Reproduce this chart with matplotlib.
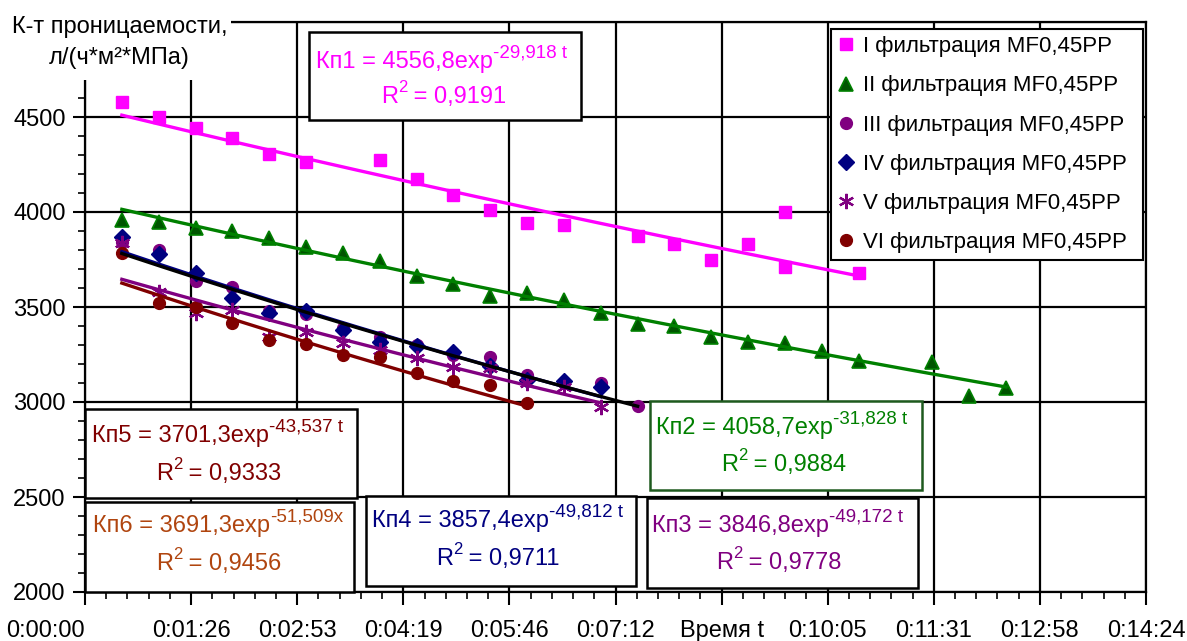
import numpy as np
import matplotlib
matplotlib.use('Agg')
import matplotlib.pyplot as plt
from matplotlib.ticker import MultipleLocator
from matplotlib.patches import Rectangle

plt.rcParams['font.family'] = ['Liberation Sans', 'DejaVu Sans']

# время измерения, с
t1_s = [30, 60, 90, 120, 150, 180, 240, 270, 300, 330, 360, 390, 450, 480, 510, 540, 570, 570, 630]
k1 = [4579, 4500, 4442, 4389, 4305, 4263, 4274, 4174, 4089, 4011, 3942, 3932, 3874, 3832, 3747, 3830, 3999, 3709, 3677]

t2_s = [30, 60, 90, 120, 150, 180, 210, 240, 270, 300, 330, 360, 390, 420, 450, 480, 510, 540, 570, 600, 630, 690, 720, 750]
k2 = [3958, 3947, 3916, 3900, 3863, 3816, 3784, 3742, 3663, 3621, 3556, 3572, 3535, 3466, 3413, 3398, 3340, 3316, 3310, 3268, 3215, 3210, 3029, 3076]

t3_s = [30, 60, 90, 120, 150, 180, 210, 240, 270, 300, 330, 360, 390, 420, 450]
k3 = [3842, 3800, 3637, 3605, 3479, 3463, 3389, 3342, 3300, 3250, 3237, 3142, 3100, 3100, 2979]

t4_s = [30, 60, 90, 120, 150, 180, 210, 240, 270, 300, 330, 360, 390, 420]
k4 = [3868, 3779, 3679, 3547, 3468, 3479, 3379, 3316, 3295, 3263, 3189, 3116, 3111, 3079]

t5_s = [30, 60, 90, 120, 150, 180, 210, 240, 270, 300, 330, 360, 390, 420]
k5 = [3836, 3579, 3468, 3484, 3342, 3368, 3310, 3274, 3232, 3184, 3179, 3100, 3079, 2974]

t6_s = [30, 60, 90, 120, 150, 180, 210, 240, 270, 300, 330, 360]
k6 = [3783, 3521, 3500, 3416, 3326, 3305, 3247, 3237, 3153, 3111, 3089, 2995]

# коэффициенты экспоненциальных линий тренда  Kn = A*exp(-B*t), t в сутках
fit_a = [4556.8, 4058.7, 3846.8, 3857.4, 3701.3, 3691.3]
fit_b = [29.918, 31.828, 49.172, 49.812, 43.537, 51.509]
fit_r2 = ['0,9191', '0,9884', '0,9778', '0,9711', '0,9333', '0,9456']

labels = ['I фильтрация MF0,45PP', 'II фильтрация MF0,45PP', 'III фильтрация MF0,45PP',
          'IV фильтрация MF0,45PP', 'V фильтрация MF0,45PP', 'VI фильтрация MF0,45PP']

W, H = 1187, 641
fig = plt.figure(figsize=(W / 100, H / 100), dpi=100)
ax = fig.add_axes([85 / W, 1 - 592 / H, (1146 - 85) / W, (592 - 22) / H])


def fx(x):
    return x / W


def fy(y):
    return 1 - y / H


times = [t1_s, t2_s, t3_s, t4_s, t5_s, t6_s]
vals = [k1, k2, k3, k4, k5, k6]
mstyle = [
    dict(marker='s', ms=8.5, mfc='#FF00FF', mec='#FF00FF'),
    dict(marker='^', ms=10, mfc='#005500', mec='#008000', mew=1.2),
    dict(marker='o', ms=8.5, mfc='#800080', mec='#800080'),
    dict(marker='D', ms=8, mfc='#000080', mec='#000080'),
    dict(marker=(6, 2, 0), ms=11, mfc='#800080', mec='#800080', mew=1.6),
    dict(marker='o', ms=8.5, mfc='#800000', mec='#800000'),
]
line_col = ['#FF00FF', '#008000', 'black', '#000080', '#800080', '#800000']

for i in range(6):
    t = np.array(times[i]) / 86400.0
    ax.plot(t, vals[i], ls='none', label=labels[i], zorder=3, **mstyle[i])

for i in [0, 1, 3, 2, 4, 5]:
    t = np.array(times[i]) / 86400.0
    tt = np.linspace(t[0], t[-1], 200)
    ax.plot(tt, fit_a[i] * np.exp(-fit_b[i] * tt), color=line_col[i], lw=2.4, zorder=4)

ax.set_xlim(0, 0.01)
ax.set_ylim(2000, 5000)


def hms(d):
    s = int(round(d * 86400))
    return '%d:%02d:%02d' % (s // 3600, (s % 3600) // 60, s % 60)


xt = np.arange(11) * 0.001
xl = [hms(v) for v in xt]
xl[6] = 'Время t'
ax.set_xticks(xt)
ax.set_xticklabels(xl)
ax.get_xticklabels()[0].set_ha('right')
yt = list(range(2000, 5001, 500))
ax.set_yticks(yt)
ax.set_yticklabels([str(v) for v in yt[:-1]] + [''])
ax.xaxis.set_minor_locator(MultipleLocator(0.0002))
ax.yaxis.set_minor_locator(MultipleLocator(100))
ax.tick_params(which='major', length=9, width=1.5, direction='out', labelsize=17)
ax.tick_params(which='minor', length=5, width=1.2, direction='out')
ax.tick_params(axis='x', which='major', pad=11)
ax.tick_params(axis='y', which='major', pad=5)
ax.grid(True, which='major', color='black', lw=1.6)
for sp in ax.spines.values():
    sp.set_linewidth(1.6)

leg = ax.legend(loc='upper left', bbox_to_anchor=(0.703, 0.987, 0.294, 0.0), mode='expand',
                borderaxespad=0, fancybox=False, edgecolor='black', framealpha=1,
                fontsize=16, numpoints=1, handlelength=0.8, handletextpad=0.35,
                labelspacing=0.82, borderpad=0.3)
leg.get_frame().set_linewidth(1.5)
leg.set_zorder(12)

# подпись оси Y
ax.add_patch(Rectangle((0, fy(80)), fx(231), 80 / H, transform=fig.transFigure,
                       fc='white', ec='none', zorder=10, clip_on=False))
ax.text(fx(120), fy(27), 'К-т проницаемости,', transform=fig.transFigure, ha='center',
        va='center', fontsize=17, zorder=11)
ax.text(fx(119), fy(58), 'л/(ч*м²*МПа)', transform=fig.transFigure, ha='center',
        va='center', fontsize=17, zorder=11)

# таблички с уравнениями
boxes = [
    # name, box x0, y0, x1, y1, line1 left x, line1 y, line2 left x, line2 y, color, edge, var
    ('Кп1', 309, 32, 581, 120, 316, 62, 381, 97, '#FF00FF', 'black', 't'),
    ('Кп2', 650, 401, 922, 490, 656, 428, 721, 465, '#008000', '#1E5A1E', 't'),
    ('Кп3', 647, 498, 918, 588, 652, 526, 716, 563, '#800080', 'black', 't'),
    ('Кп4', 366, 496, 636, 586, 372, 521, 436, 559, '#000080', 'black', 't'),
    ('Кп5', 85, 409, 357, 498, 92, 436, 156, 474, '#800000', 'black', 't'),
    ('Кп6', 85, 502, 354, 592, 93, 526, 156, 564, '#B0450F', 'black', 'x'),
]
for i, (nm, x0, y0, x1, y1, lx, ly1, rx, ly2, col, ec, var) in enumerate(boxes):
    ax.add_patch(Rectangle((fx(x0), fy(y1)), (x1 - x0) / W, (y1 - y0) / H,
                           transform=fig.transFigure, fc='white', ec=ec, lw=1.8,
                           zorder=10, clip_on=False))
    a_txt = ('%.1f' % fit_a[i]).replace('.', ',')
    b_txt = ('%.3f' % fit_b[i]).replace('.', ',')
    main = ax.text(fx(lx), fy(ly1), '%s = %sexp' % (nm, a_txt), transform=fig.transFigure,
                   ha='left', va='center', fontsize=17, color=col, zorder=11)
    sup = '-%s %s' % (b_txt, var) if var == 't' else '-%s%s' % (b_txt, var)
    ax.annotate(sup, xy=(1, 0.9), xycoords=main, ha='left', va='center',
                fontsize=13.5, color=col, zorder=11)
    r = ax.text(fx(rx), fy(ly2), 'R', transform=fig.transFigure,
                ha='left', va='center', fontsize=17, color=col, zorder=11)
    two = ax.annotate('2', xy=(1, 0.92), xycoords=r, ha='left', va='center',
                      fontsize=12, color=col, zorder=11)
    ax.annotate(' = %s' % fit_r2[i], xy=(1, 0.5), xycoords=(two, r), ha='left',
                va='center', fontsize=17, color=col, zorder=11)

fig.savefig('out.png', dpi=100)
